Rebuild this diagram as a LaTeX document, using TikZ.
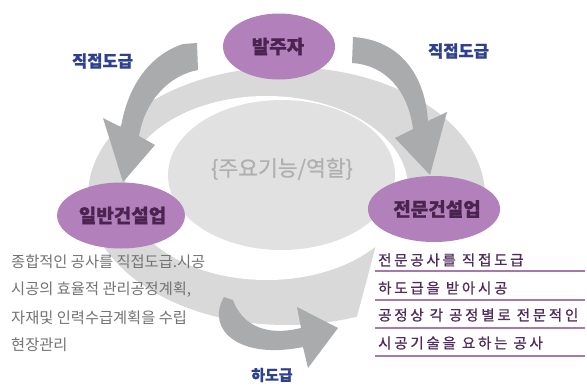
\documentclass[tikz,border=0pt]{standalone}
\usepackage{fontspec}
\newfontfamily\kr[BoldFeatures={FakeBold=0.7}]{Noto Sans CJK KR}
\newfontfamily\krc[FakeBold=0.8]{Noto Sans CJK KR}
\newfontfamily\krsp[LetterSpace=19,FakeBold=0.8]{Noto Sans CJK KR}
\usetikzlibrary{shapes.geometric,calc}
\definecolor{ringgrey}{HTML}{D9D9D9}
\definecolor{innergrey}{HTML}{E1E1E1}
\definecolor{arrowgrey}{HTML}{A9ABAD}
\definecolor{purplefill}{HTML}{B280BB}
\definecolor{purpletext}{HTML}{4A2350}
\definecolor{bluetext}{HTML}{2D4190}
\definecolor{greytext}{HTML}{737373}
\definecolor{centretext}{HTML}{B0B0B0}
\definecolor{spectext}{HTML}{4D2B5C}
\definecolor{uline}{HTML}{A678AB}
\tikzset{
  role/.style={ellipse, fill=purplefill, minimum width=112pt, minimum height=66pt,
    inner sep=0pt, text=purpletext, font=\kr\bfseries\fontsize{19}{19}\selectfont},
  flowlabel/.style={text=bluetext, inner sep=0pt, font=\kr\bfseries\fontsize{16.5}{16.5}\selectfont},
  gentext/.style={anchor=west, inner sep=0pt, text=greytext, font=\kr\fontsize{15.3}{15.3}\selectfont},
  spectxt/.style={anchor=west, inner sep=0pt, text=spectext, font=\krsp\fontsize{14.5}{14.5}\selectfont},
  underl/.style={draw=uline, line width=1.5pt},
  blockarrow/.style={fill=arrowgrey}
}
\begin{document}
\begin{tikzpicture}[x=1pt,y=-1pt]
\useasboundingbox (0,0) rectangle (587,389);
\fill[white] (0,0) rectangle (587,389);
% ring
\begin{scope}
\clip (0,0) -- (587,0) -- (587,205) -- (385,205) .. controls (378,240) and (368,275) .. (352,335) -- (0,335) -- cycle;
\fill[ringgrey] (286.5,196) ellipse [x radius=198.5, y radius=129];
\end{scope}
\fill[white] (266.5,188) ellipse [x radius=141.5, y radius=92];
\fill[innergrey] (281.5,175) ellipse [x radius=113.5, y radius=75];
\node[text=centretext, font=\krc\fontsize{21.5}{21.5}\selectfont] (centre) at (282,169) {\{주요기능/역할\}};
% arrows
\fill[blockarrow] (183,44) .. controls (150,55) and (128,85) .. (121,127) -- (103,118) -- (123,182) -- (155,145) -- (139,136) .. controls (145,100) and (170,75) .. (198,70) -- (197,43) -- cycle;
\fill[blockarrow] (353,37) .. controls (400,40) and (425,75) .. (428,121) -- (447,112) -- (430,175) -- (395,138) -- (413,129) .. controls (408,90) and (385,65) .. (352,63) -- cycle;
\fill[blockarrow] (224,297) .. controls (205,330) and (240,360) .. (303,347) -- (308,368) -- (338,328) -- (297,307) -- (301,328) .. controls (260,338) and (240,320) .. (233,300) -- cycle;
% role ellipses
\node[role] (client) at (279,46.5) {\hspace*{-2pt}발주자};
\node[role] (gen) at (121,215.5) {\hspace*{3pt}일반건설업};
\node[role] (spec) at (434,209) {\hspace*{6pt}전문건설업};
% labels
\node[flowlabel] (l1) at (102.5,61) {직접도급};
\node[flowlabel] (l2) at (458.5,51) {직접도급};
\node[flowlabel, font=\kr\bfseries\fontsize{15}{15}\selectfont] (l3) at (272,375) {하도급};
% general contractor text
\node[gentext] (g1) at (11,262) {종합적인 공사를 직접도급.시공};
\node[gentext] (g2) at (11,290) {시공의 효율적 관리공정계획,};
\node[gentext] (g3) at (11,318) {자재및 인력수급계획을 수립};
\node[gentext] (g4) at (11,345) {현장관리};
% specialty contractor text
\node[spectxt] (s1) at (378,260) {전문공사를 직접도급};
\node[spectxt] (s2) at (378,288) {하도급을 받아시공};
\node[spectxt] (s3) at (378,315) {공정상 각 공정별로 전문적인};
\node[spectxt] (s4) at (378,343) {시공기술을 요하는 공사};
\draw[underl] ($(s1.west)+(-3,11)$) -- ++(210,0);
\draw[underl] ($(s2.west)+(-3,12)$) -- ++(210,0);
\draw[underl] ($(s3.west)+(-3,13)$) -- ++(210,0);
\draw[underl] ($(s4.west)+(-3,13)$) -- ++(210,0);
\end{tikzpicture}
\end{document}
